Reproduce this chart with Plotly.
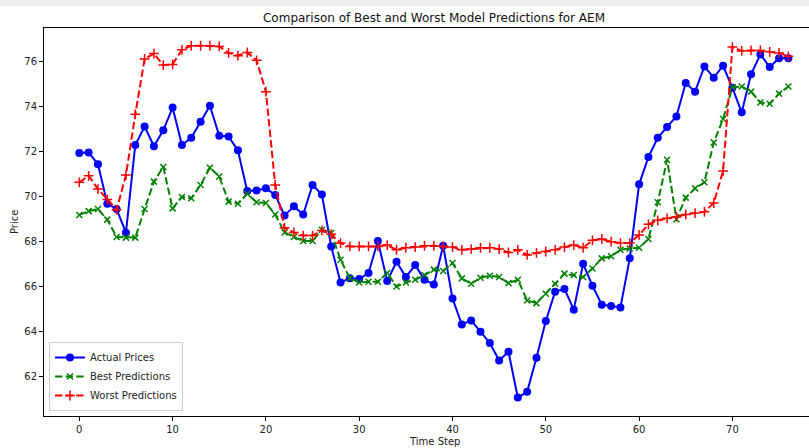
import plotly.graph_objects as go

time_step = list(range(77))
actual = [71.94, 71.97, 71.44, 69.69, 69.45, 68.40, 72.30, 73.12, 72.24, 72.95,
          73.96, 72.30, 72.62, 73.33, 74.04, 72.71, 72.68, 72.06, 70.25, 70.28,
          70.37, 70.08, 69.16, 69.57, 69.21, 70.52, 70.10, 67.79, 66.19, 66.37,
          66.34, 66.61, 68.03, 66.25, 67.11, 66.43, 66.96, 66.31, 66.10, 67.82,
          65.48, 64.32, 64.50, 64.00, 63.50, 62.72, 63.11, 61.07, 61.33, 62.84,
          64.48, 65.78, 65.90, 64.98, 67.02, 66.04, 65.20, 65.14, 65.08, 67.26,
          70.55, 71.76, 72.62, 73.10, 73.57, 75.05, 74.67, 75.79, 75.29, 75.82,
          74.84, 73.75, 75.44, 76.32, 75.76, 76.15, 76.15]
best = [69.19, 69.36, 69.45, 68.98, 68.21, 68.18, 68.18, 69.45, 70.67, 71.32,
        69.48, 69.99, 69.93, 70.52, 71.29, 70.90, 69.78, 69.69, 70.13, 69.75,
        69.72, 69.21, 68.41, 68.21, 68.03, 68.03, 68.53, 68.39, 67.20, 66.37,
        66.19, 66.22, 66.22, 66.61, 66.01, 66.19, 66.31, 66.52, 66.76, 66.70,
        67.05, 66.37, 66.13, 66.40, 66.49, 66.43, 66.16, 66.31, 65.39, 65.27,
        65.69, 66.13, 66.58, 66.52, 66.43, 66.81, 67.26, 67.35, 67.64, 67.70,
        67.73, 68.12, 69.75, 71.64, 69.00, 69.96, 70.37, 70.64, 72.41, 73.45,
        74.87, 74.90, 74.67, 74.19, 74.13, 74.58, 74.90]
worst = [70.64, 70.93, 70.34, 69.87, 69.42, 70.96, 73.66, 76.12, 76.36, 75.85,
         75.88, 76.53, 76.71, 76.71, 76.71, 76.68, 76.39, 76.27, 76.41, 76.06,
         74.67, 70.52, 68.62, 68.41, 68.27, 68.27, 68.50, 68.33, 67.94, 67.79,
         67.79, 67.79, 67.79, 67.85, 67.64, 67.73, 67.76, 67.82, 67.82, 67.79,
         67.76, 67.64, 67.67, 67.73, 67.73, 67.67, 67.52, 67.64, 67.41, 67.50,
         67.56, 67.64, 67.76, 67.85, 67.73, 68.06, 68.12, 68.00, 67.94, 67.94,
         68.30, 68.77, 68.95, 69.04, 69.10, 69.21, 69.27, 69.33, 69.72, 71.14,
         76.65, 76.48, 76.50, 76.50, 76.44, 76.39, 76.24]
x_ticks = [0, 10, 20, 30, 40, 50, 60, 70]
y_ticks = [62, 64, 66, 68, 70, 72, 74, 76]

FONT = "DejaVu Sans"
W, H = 809, 448
ML, MT, MB = 44, 28, 32
PW = W - ML
PH = H - MT - MB

fig = go.Figure()
fig.add_trace(go.Scatter(
    x=time_step, y=actual, name="Actual Prices", mode="lines+markers",
    line=dict(color="#0000ff", width=2),
    marker=dict(symbol="circle", size=8, color="#0000ff")))
fig.add_trace(go.Scatter(
    x=time_step, y=best, name="Best Predictions", mode="lines+markers",
    line=dict(color="#008000", width=2, dash="7.4px,3.2px"),
    marker=dict(symbol="x-thin", size=6, color="#008000",
                line=dict(color="#008000", width=1.5))))
fig.add_trace(go.Scatter(
    x=time_step, y=worst, name="Worst Predictions", mode="lines+markers",
    line=dict(color="#ff0000", width=2, dash="7.4px,3.2px"),
    marker=dict(symbol="cross-thin", size=7, color="#ff0000",
                line=dict(color="#ff0000", width=1.5))))

fig.update_layout(
    width=W, height=H,
    margin=dict(l=ML, r=0, t=MT, b=MB, pad=0),
    paper_bgcolor="white", plot_bgcolor="white",
    font=dict(family=FONT, size=10, color="#222"),
    title=dict(text="Comparison of Best and Worst Model Predictions for AEM",
               font=dict(family=FONT, size=12, color="#111"),
               xref="container", x=434 / W, xanchor="center",
               yref="container", y=1 - 18 / H, yanchor="middle"),
    showlegend=True,
    legend=dict(x=5 / PW, y=5 / PH, xanchor="left", yanchor="bottom",
                bgcolor="rgba(255,255,255,0.8)", bordercolor="#cccccc",
                borderwidth=1, font=dict(family=FONT, size=10, color="#222"),
                tracegroupgap=0, itemwidth=30),
    xaxis=dict(range=[(ML - 79.3) / 9.33, (W - 79.3) / 9.33],
               tickmode="array", tickvals=x_ticks, showgrid=False, zeroline=False,
               showline=True, linecolor="#000", linewidth=1, mirror=True,
               ticks="outside", ticklen=4, tickcolor="#000", tickwidth=1),
    yaxis=dict(range=[60.253, 77.498],
               tickmode="array", tickvals=y_ticks, showgrid=False, zeroline=False,
               showline=True, linecolor="#000", linewidth=1, mirror=False,
               ticks="outside", ticklen=4, tickcolor="#000", tickwidth=1),
    shapes=[dict(type="rect", xref="paper", yref="paper",
                 x0=-ML / PW, x1=1.0, y0=1 + (MT - 6) / PH, y1=1 + MT / PH,
                 fillcolor="#f0f0f0", line=dict(width=0), layer="above")],
    annotations=[
        dict(text="Time Step", xref="paper", yref="paper",
             x=(434 - ML) / PW, y=-(441.7 - (MT + PH)) / PH,
             xanchor="center", yanchor="middle", showarrow=False,
             font=dict(family=FONT, size=10, color="#222")),
        dict(text="Price", xref="paper", yref="paper",
             x=(14 - ML) / PW, y=0.5, textangle=-90,
             xanchor="center", yanchor="middle", showarrow=False,
             font=dict(family=FONT, size=10, color="#222")),
    ],
)

fig.write_html("out.html",
               config={"displayModeBar": False, "staticPlot": True},
               post_script="document.body.style.margin='0';document.body.style.padding='0';")
